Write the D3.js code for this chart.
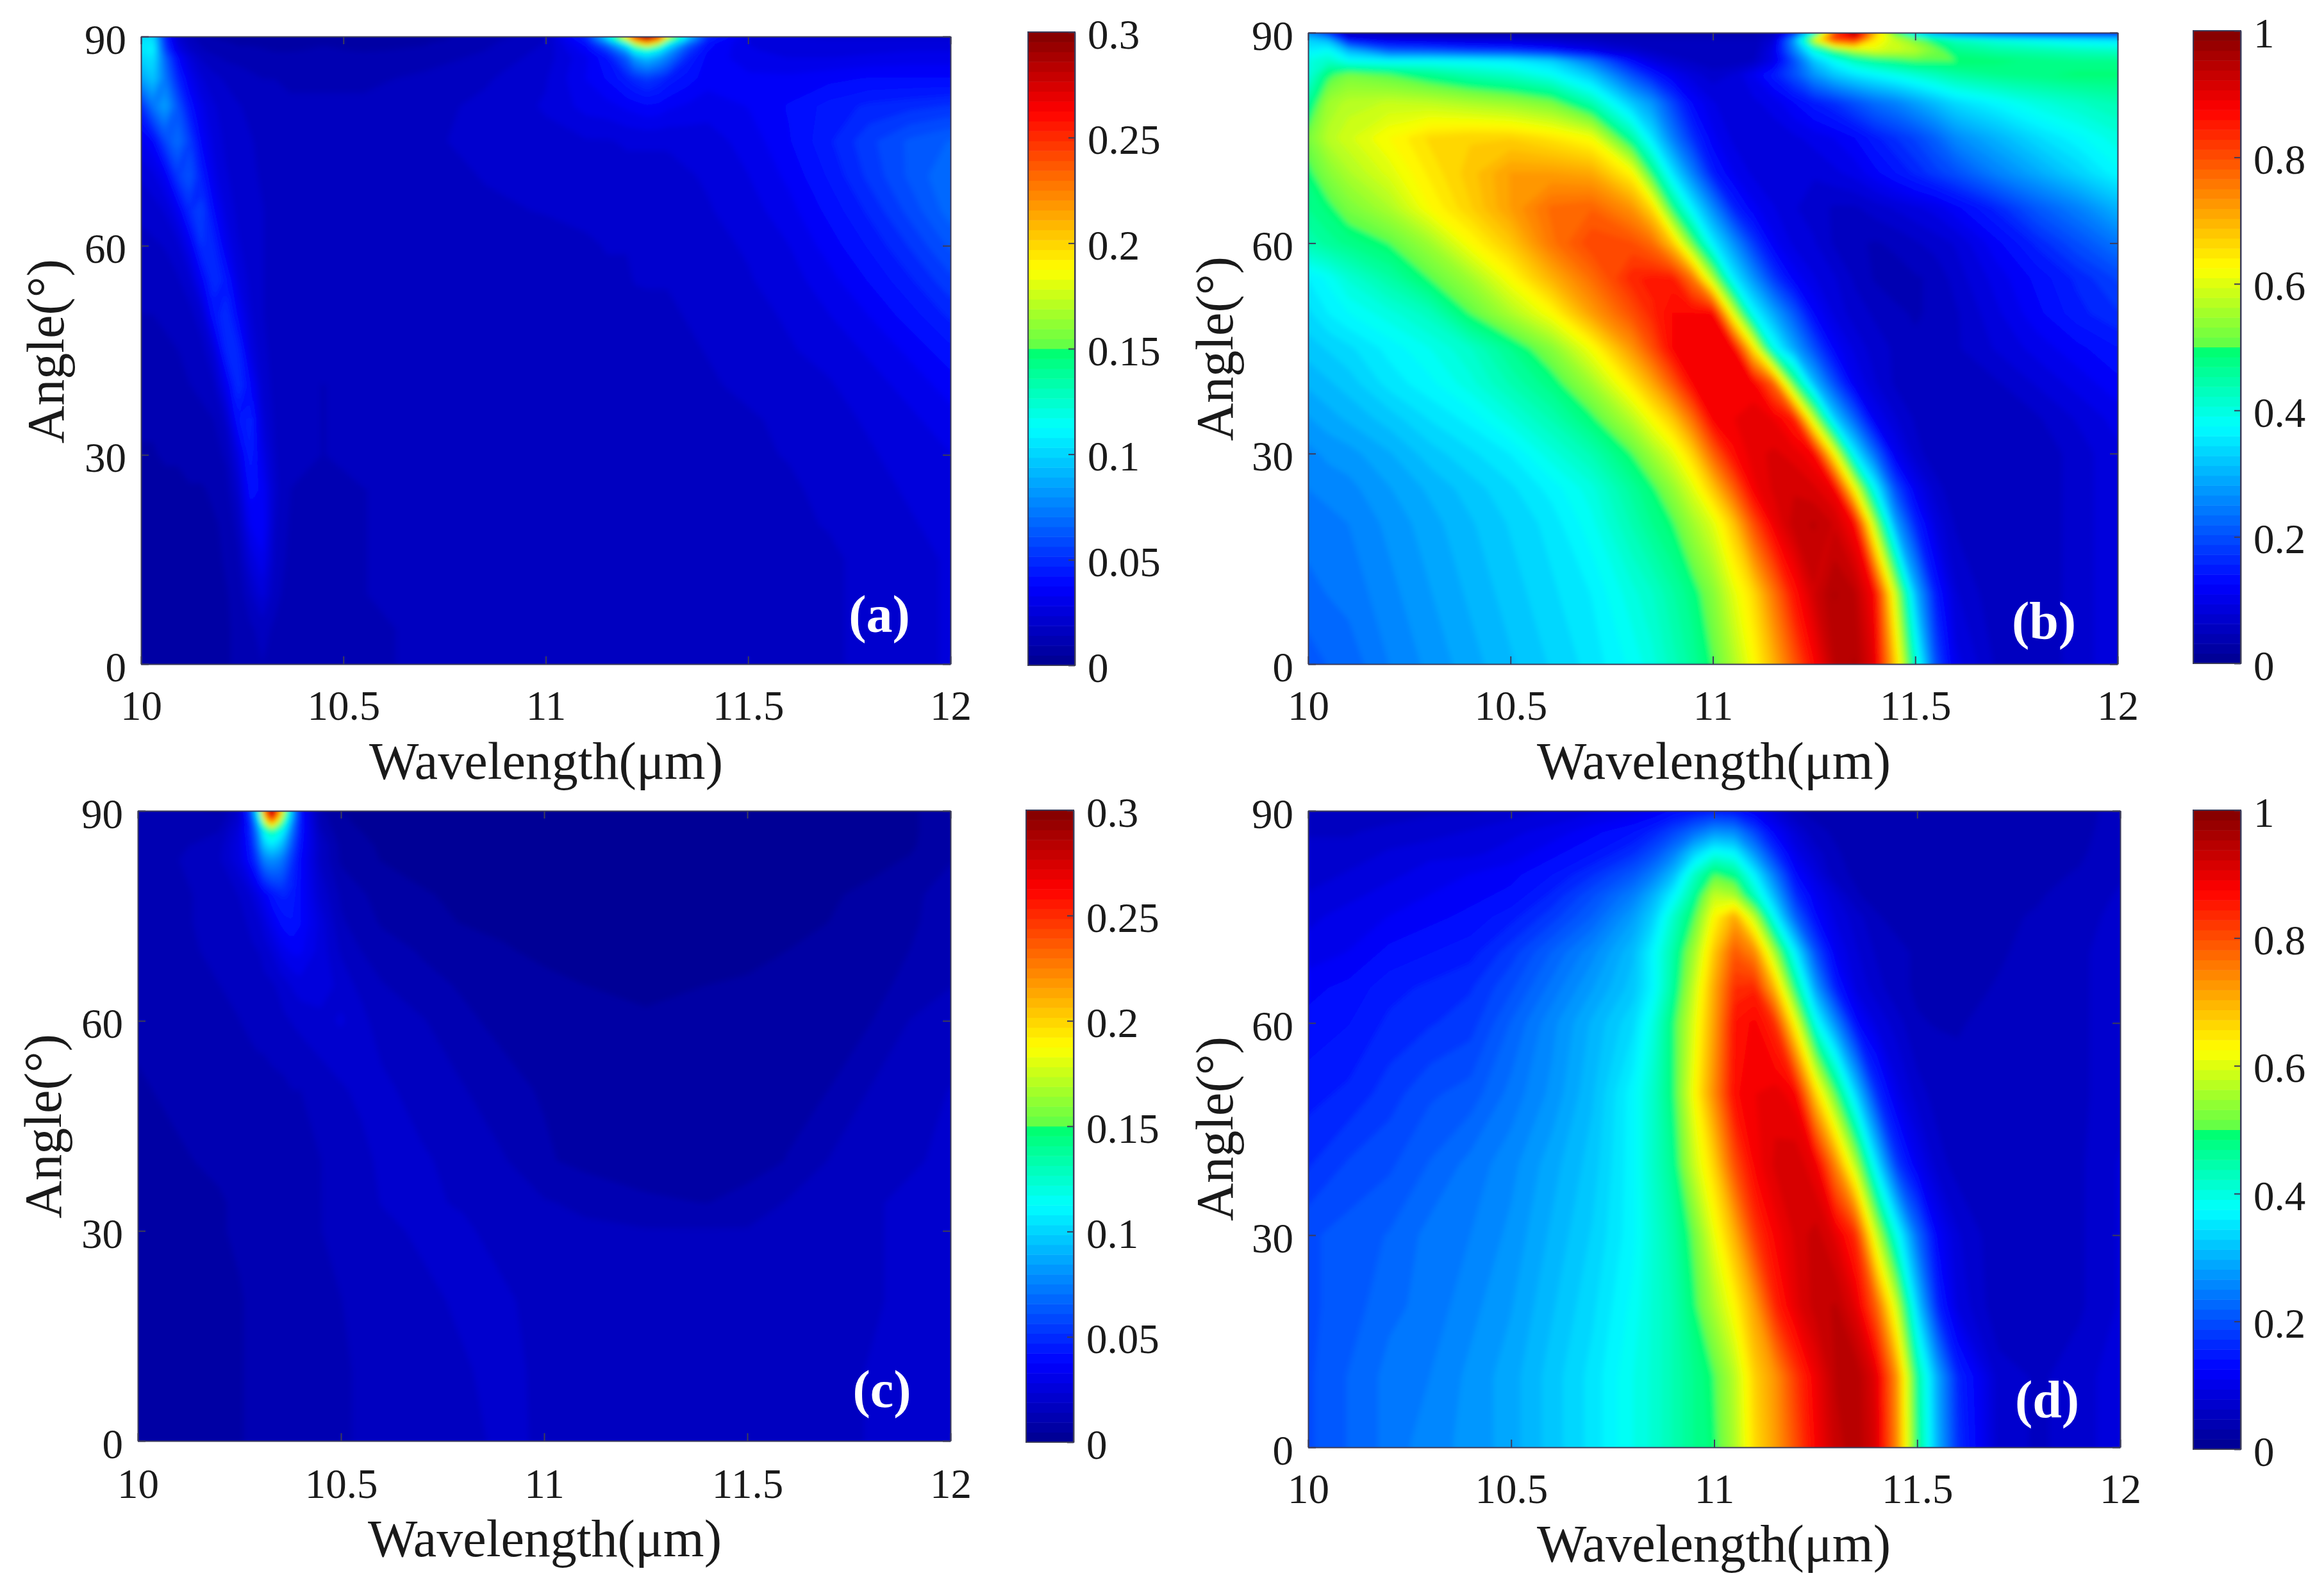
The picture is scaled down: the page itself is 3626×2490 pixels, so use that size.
<!DOCTYPE html>
<html>
<head>
<meta charset="utf-8">
<title>Angle vs wavelength maps</title>
<script src="https://cdnjs.cloudflare.com/ajax/libs/d3/7.8.5/d3.min.js"></script>
<style>
    body { margin: 0; background: #fff; }
    text { font-family: "Liberation Serif", "Times New Roman", serif; fill: #1a1a1a; }
</style>
</head>
<body>
<div id="chart"></div>
<script>
// --------- DATA ---------

const xTicks = [10, 10.5, 11, 11.5, 12];
const yTicks = [0, 30, 60, 90];
const barTicksSmall = [0, 0.05, 0.1, 0.15, 0.2, 0.25, 0.3];
const barTicksLarge = [0, 0.2, 0.4, 0.6, 0.8, 1];

// panel (a), values in thousandths
const wavelengthsA = [10,10.03,10.06,10.09,10.12,10.15,10.18,10.21,10.24,10.27,10.3,10.33,10.37,10.45,10.55,10.7,10.85,11,11.1,11.15,11.2,11.22,11.25,11.28,11.3,11.35,11.4,11.5,11.6,11.7,11.8,11.9,12];
const anglesA = [0,5,10,15,20,25,30,35,40,45,50,55,60,65,70,75,80,84,87,88,89,89.5,90];
const valuesA = [
    [9,9,9,9,9,9,9,9,10,12,14,13,12,12,13,15,16,18,16,16,16,16,16,16,16,16,16,17,17,18,20,22,24],
    [8,8,8,8,8,8,8,9,10,13,16,13,12,12,13,15,16,17,16,16,16,16,16,16,16,16,16,17,17,18,20,22,24],
    [7,7,7,7,7,7,8,9,11,18,25,16,11,12,14,15,16,16,16,16,16,16,16,16,16,16,16,17,17,18,20,22,24],
    [7,7,7,7,7,8,8,10,13,25,32,18,12,12,14,15,16,16,16,16,16,16,16,16,16,16,16,17,17,18,20,22,24],
    [7,7,7,8,8,8,9,10,16,33,37,19,13,12,14,15,16,16,16,16,16,16,16,16,16,16,16,17,18,19,21,23,25],
    [8,8,8,8,9,9,10,12,21,41,36,20,14,13,14,15,16,16,16,16,16,16,16,16,16,16,17,17,18,20,22,24,26],
    [9,9,10,10,11,11,12,15,28,47,30,19,15,14,15,15,16,16,16,16,16,16,16,16,16,16,17,18,19,21,23,25,28],
    [10,10,11,11,12,13,14,20,42,48,25,18,15,14,15,15,16,16,16,16,16,16,16,16,16,17,17,18,20,22,24,27,31],
    [11,12,12,13,14,15,18,32,52,38,22,17,15,14,15,15,16,16,16,16,16,16,16,16,17,17,18,20,21,23,26,30,35],
    [12,13,13,14,15,17,25,48,48,28,20,17,15,15,15,15,16,16,16,16,17,17,17,17,17,18,19,21,23,25,29,34,41],
    [14,14,15,16,17,22,42,52,36,24,19,17,16,15,15,16,16,16,16,17,17,17,18,18,18,19,20,22,24,28,33,40,48],
    [15,16,17,18,22,35,52,44,28,22,19,17,16,15,15,16,16,16,17,18,18,19,19,19,19,20,21,23,26,31,38,46,55],
    [17,18,19,22,32,52,48,32,24,21,19,17,16,16,16,16,16,17,18,19,19,20,20,20,20,21,22,24,28,35,43,52,62],
    [20,21,24,32,50,56,38,27,22,20,19,17,16,16,16,16,18,19,20,20,21,21,21,21,21,22,23,26,31,39,48,58,68],
    [24,27,34,54,62,45,30,24,21,20,18,17,16,16,16,17,19,20,21,21,22,22,22,22,22,23,24,28,34,43,53,62,70],
    [32,38,58,70,55,36,27,22,20,19,18,17,16,16,16,18,20,22,23,23,24,24,24,24,24,25,26,30,37,46,55,62,66],
    [50,72,85,62,42,30,24,21,19,18,17,16,15,15,15,17,20,24,30,31,34,35,37,36,34,32,30,33,38,44,48,50,52],
    [85,96,72,48,32,24,20,18,17,15,14,14,13,13,13,15,18,23,33,38,46,50,54,50,46,40,35,34,34,36,38,38,38],
    [100,105,65,38,25,18,15,13,12,12,11,11,11,11,11,12,15,21,32,42,65,85,95,85,75,48,36,30,28,28,29,30,30],
    [105,110,55,30,20,15,12,11,10,10,10,9,9,10,9,10,14,20,36,52,85,115,125,110,90,55,38,29,26,26,27,28,28],
    [105,108,50,26,17,13,11,10,9,9,8,8,8,9,8,9,13,19,40,70,120,170,210,170,120,70,40,28,25,24,24,25,25],
    [102,105,48,24,16,12,10,9,8,8,8,8,8,8,8,8,12,19,45,90,170,220,270,220,160,90,45,28,24,24,24,24,24],
    [100,102,45,22,15,11,9,8,8,8,8,8,8,8,8,8,11,18,50,100,200,270,300,270,190,100,50,28,24,22,22,22,22]
];

// panel (b), values in hundredths
const wavelengthsB = [10,10.05,10.1,10.2,10.3,10.4,10.5,10.6,10.7,10.8,10.85,10.9,10.95,11,11.05,11.1,11.15,11.2,11.25,11.3,11.35,11.4,11.45,11.5,11.55,11.6,11.7,11.8,11.9,12];
const anglesB = [0,10,20,25,30,35,40,45,50,55,60,65,70,75,80,84,86,87.5,89,90];
const valuesB = [
    [21,22,22.5,25,27,29,31,33,35,38,40,43,46,50,56,62.5,70,79,87.5,94,95.5,90,68,42,20,10,6,5,7,9],
    [23,23.5,24,26,28,30,32,34,36,40,42,45,48,53,60,66,76,86,92,95.5,94,87.5,59,31,15,8,5,5,7,9],
    [24,24.5,25,27,29,31,33,35,38.5,44,47,49.5,55,60,68,80,89,93,94,92,87.5,56,29,16,9,6,5,5,7,9],
    [25,25.5,26,28,30,32,34,36.5,40,46,49,54,60,68,78,88.5,91,92,91,88.5,62.5,37.5,20,11,7,5,5,5,7,9],
    [26,27,27.5,29.5,32,34,36,40,44,50,55,60,67,78,87,90,91,90,87.5,62.5,36,23,11,7,5,5,5,5,7,9],
    [28,29,30,32,34.5,36.5,40,44,49,57,62.5,68,77,88,89,90,89,85,57,33,22,11,8,6,5,5,5,6,8,10],
    [30,31,32,35,37,40,44,48,55,65,71,79,87.5,89,89,88,78,50,31,20,11,8,6,5,5,5,6,8,10,12],
    [32,33,34,36.5,39,42,47,53,62,73,80,87.5,88,88,88,65,39,29,20,12,9,7,6,5,5,6,8,10,12,14],
    [34,36,37.5,40,43,50,56,62.5,72,80,84,87.5,87.5,87.5,60,37.5,29,21,12.5,9,7,6,5,4.5,5,6,9,12,15,17],
    [36,38,41,45,50,55,62.5,70,77,84,85,85,76,56,36,27,18,12,9.5,8,6,4.5,4,4.5,5,7,10,13,16,19],
    [44,46,47.5,50,55,62.5,68,76,81,80,77,68,51,36,27,18,11.5,9,8,6,5,4.5,5,6,7,8,12,16,20,24],
    [47,49,52,56,62.5,67,72,77,78,73,66,48,36,26,16,11.5,9.5,8,7,6,6,7,8,9,10,12,16,21,25,30],
    [49,53,56,60,64.5,68,72,72,71,63,48,35,25,15,11,9,8,8,8,9,10,12,14,16,18,20,25,29,33,37],
    [52,57,59,62.5,66,67,67,65,62,45,35,25,17,11.5,9,8,8.5,9,10,11,12.5,15,17,19,22,26,30,34,37,40],
    [46,55,57,58,57.5,56,54.5,52,44,32,27,19,12.5,9.5,8.5,9,10,12.5,15,17,20,23,25,28,31,34,37,40,42,44],
    [40,49,52,50,47,44,42,38.5,32,20,15,11,8.5,7,8,11,15,20,27,32,35,37,39,41,43,45,47,48,49,49],
    [40,42,38,37,37.5,37,36,33,24,13,9,7,6,5,5,6,10,20,32,38,43,46,48,50,50,50,49,48,47,47],
    [36,38,30,21,20,18,17,14,10,7,6,5,5,5,5,5,10,25,40,50,56.5,60,58.5,57,52,47,45,44,43,42],
    [33,30,13,10,9,8,8,7,6,5,5,5,5,5,5,5,8,28,60,82,86,65,58,52,47,43,40,38,36,35],
    [25,15,4,3,3,3,3,3,3,3,3,3,3,3,3,3,5,15,40,80,97,70,50,35,25,20,15,12,12,12]
];

// panel (c), values in thousandths
const wavelengthsC = [10,10.1,10.2,10.25,10.28,10.3,10.31,10.33,10.35,10.36,10.38,10.4,10.45,10.5,10.55,10.6,10.7,10.8,10.9,11,11.1,11.25,11.4,11.5,11.6,11.7,11.8,11.9,12];
const anglesC = [0,10,20,30,34,40,50,60,65,70,74,78,83,85,87,88,89,90];
const valuesC = [
    [7,7,8,9,10,10,11,11,11,11,11,11,12,13,15,15,16,17,20,18,16,16,16,16,16,17,19,20,21],
    [7,7,8,9,10,10,11,11,11,11,11,11,12,13,15,15,16,18,21,17,16,16,16,16,16,17,19,20,21],
    [7,8,8,9,10,10,11,11,11,11,11,12,13,14,15,16,17,20,20,16,15,15,15,15,15,16,18,20,21],
    [7,8,9,10,11,11,11,12,12,12,12,13,14,15,16,17,20,20,16,15,15,14.5,14.5,14.5,15,15.5,18,20,21],
    [7,8,9,10,11,11,11,12,12,12,12,13,14,15.5,16.5,19,20,18,15.5,14.5,13,10,9.3,10.5,14.5,15.5,18,20,21],
    [8,9,10,11,11,12,12,12,12,12,13,13,14,16,17,20,20,15.5,14.5,10,8,7.5,7.5,8,9.5,14.2,15,18,20],
    [9,10,11,12,12,13,13,13,13,13,14,14,16,18,20,21,15,14.5,10.5,9,8,7,7,7.5,8.5,9.4,14.2,16,19],
    [10,11,13,14,15,15,15,16,17,18,19,20,22,24,21,15,14.5,10,8.5,7,5.5,5,5,5.5,6,7,9,14.2,15],
    [11,12,14,15,16,16,17,18,20,21,24,26,26,22,17,14.5,10.5,9,7,5.5,4.7,4.2,4.7,5,5.5,6.5,8,10.5,14],
    [12,13,15,16,18,19,21,24,29,31,34,34,26,18,14,11,9,7,5,4,3.5,3.2,3.5,4,4.7,5.5,7,9.4,13],
    [12,13,16,17,20,23,26,32,38,40,42,38,26,15,11,9,6,4.5,4,3.5,3.2,3,3.2,3.5,4,4.7,6,8.5,12],
    [12,13,16,19,24,30,34,42,47,48,45,38,22,13,10,7.5,5,4,3.5,3,3,3,3,3.2,3.5,4.2,5.5,8,12],
    [12,14,18,27,42,60,75,80,75,68,52,38,18,8.5,6,4.5,3.5,3.2,3,3,3,3,3,3,3,3,3.5,5,9],
    [12,13,17,28,45,75,95,105,95,85,60,40,18,8,5.5,4.2,3.2,3,3,3,3,3,3,3,3,3,3.2,4,8],
    [12,12,14,26,50,85,115,135,115,105,70,42,15,6,4.7,3.8,3,3,3,3,3,3,3,3,3,3,3,4,7],
    [12,11,12,24,50,100,150,200,150,125,75,42,13,5,4.5,3.5,3,3,3,3,3,3,3,3,3,3,3,4,7],
    [12,11,10,22,55,120,190,270,190,150,85,42,12,5,4.2,3.5,3,3,3,3,3,3,3,3,3,3,3,4,7],
    [12,10,9,20,60,140,220,300,220,170,90,40,10,4.5,4,3,3,3,3,3,3,3,3,3,3,3,3,4,7]
];

// panel (d), values in hundredths
const wavelengthsD = [10,10.1,10.2,10.3,10.4,10.5,10.6,10.7,10.8,10.85,10.9,10.95,11,11.05,11.1,11.15,11.2,11.25,11.3,11.35,11.4,11.45,11.5,11.55,11.6,11.7,11.8,11.9,12];
const anglesD = [0,10,20,30,40,50,60,65,70,75,78,81,84,87,90];
const valuesD = [
    [20,22,24,26,27,29,32,35,39,41,44,47,49,56,66,72,80,88,93,95,91,74,48,30,17,7,6,7,9],
    [20,22,24,25,27,29,32,35,39,41,44,47,50,57,67,73,82,89,94,95,90,73,46,29,16,7,6,7,9],
    [20,21,23,24,26,28,31,34,38,41,44,49,56,63,72,84,90,93,94,90,78,58,33,16,9,5,5,6,8],
    [20,21,22,24,25,27,30,33,37,41,45,51,61,70,82,88,91,93,90,83,58,39,23,12,8,5,5,6,8],
    [17,19,20,22,24,26,29,32,37,42,47,58,67,80,88,91,92,89,74,56,35,18,11,7,5.5,5,5,6,8],
    [15,16,18,20,21,24,27,31,37,42,49,62,74,87,89,90,88,67,50,33,17,10,7,5.5,5,4.8,5,6,7],
    [13,14,16,17,18,22,26,30,34,40,49,60,72,86,88,83,62,39,26,13,9,7,4.8,4.6,4.6,5,5.5,6,7],
    [12,13,15,16,17,20,24,28,32,37,46,58,71,83,84,69,47,28,15,9,7,5,4.5,4.2,4.2,4.8,5.5,6,7],
    [10,11,13,14,15,18,22,26,31,37,45,55,68,79,74,55,36,20,11,8,6,5,4.5,4.2,4.2,4.5,5.2,6,7],
    [9,10,11,12,13,15,18,22,28,33,42,50,63,71,57,37,22,13,9,7,4.8,4.3,4.2,4.2,4.2,4.5,4.8,5.4,7],
    [8,9,10,11,12,13,16,20,25,30,37,46,58,56,43,30,17,11,8,4.8,4.3,4.2,4.2,4.2,4.2,4.3,4.6,5.2,6.5],
    [7,8,9,10,11,12,14,17,21,25,31,42,50,47,36,24,13,9,5,4.5,4.3,4.2,4.2,4.2,4.2,4.2,4.4,4.8,6],
    [7,7,8,9,9,10,12,14,17,20,25,33,39,37,27,17,10,7,4.8,4.3,4.2,4.2,4.2,4.2,4.2,4.2,4.3,4.5,5.5],
    [6,6,7,7,8,9,10,12,14,16,19,23,27,26,19,12,8,5,4.5,4.2,4.2,4.2,4.2,4.2,4.2,4.2,4.2,4.4,5.2],
    [5,5,5,6,6,7,8,9,10,11,13,14,15,14,11,8,4.8,4.3,4.2,4.2,4.2,4.2,4.2,4.2,4.2,4.2,4.2,4.4,5]
];

// --------- COLORS ---------

const levelCount = 64;
const jet = d3.scaleLinear()
    .domain([0, 0.125, 0.375, 0.505, 0.506, 0.625, 0.875, 1])
    .range(["#00008f", "#0000ff", "#00ffff", "#00ff64", "#64ff46", "#ffff00", "#ff0000", "#800000"]);

// --------- LAYOUT ---------

const axisColor = "#3c3c5a";
const tickFont = 65, labelFont = 82, tagFont = 82;

const svg = d3.select("#chart")
    .append("svg")
    .attr("width", 3626)
    .attr("height", 2490);

// slight blur so the contour edges read like the resampled original
svg.append("defs").append("filter")
    .attr("id", "soft")
    .append("feGaussianBlur")
    .attr("stdDeviation", 4);

// d3.contours places sample i at i + 0.5, so map back to data space piecewise.
// The outer half cell runs past the axis limits and gets clipped (keeps the blur from fading at the edge)
function indexScale(samples, pad) {
    let n = samples.length;
    let domain = [0].concat(samples.map((d, i) => i + 0.5), [n]);
    let range = [samples[0] - pad].concat(samples, [samples[n - 1] + pad]);
    return d3.scaleLinear().domain(domain).range(range);
}

function panel(p) {
    let graph = svg.append("g");

    let xScale = d3.scaleLinear().domain([10, 12]).range([p.left, p.right]);
    let yScale = d3.scaleLinear().domain([0, 90]).range([p.bottom, p.top]);

    let rows = p.values.length, cols = p.wavelengths.length;
    p.values.forEach(r => { if (r.length !== cols) throw new Error(p.tag + " row length " + r.length); });
    if (rows !== p.angles.length) throw new Error(p.tag + " rows " + rows);

    let ix = indexScale(p.wavelengths, 0.1), iy = indexScale(p.angles, 5);
    let project = d3.geoTransform({
        point: function(x, y) { this.stream.point(xScale(ix(x)), yScale(iy(y))); }
    });
    let path = d3.geoPath(project);

    // filled contours, lowest level painted as the background
    let levels = d3.range(1, levelCount).map(i => i / levelCount * p.unitMax);
    let contours = d3.contours()
        .size([cols, rows])
        .thresholds(levels)(p.values.flat());

    let clipId = "clip-" + p.tag.replace(/\W/g, "");
    svg.select("defs").append("clipPath")
        .attr("id", clipId)
        .append("rect")
        .attr("x", p.left).attr("y", p.top)
        .attr("width", p.right - p.left).attr("height", p.bottom - p.top);

    let field = graph.append("g")
        .attr("clip-path", "url(#" + clipId + ")")
        .append("g")
        .attr("filter", "url(#soft)");

    field.append("rect")
        .attr("x", p.left - 40).attr("y", p.top - 40)
        .attr("width", p.right - p.left + 80).attr("height", p.bottom - p.top + 80)
        .attr("fill", jet(0.5 / levelCount));

    field.selectAll("path")
        .data(contours)
        .join("path")
        .attr("d", path)
        .attr("fill", (d, i) => jet((i + 1.5) / levelCount));

    // axes, MATLAB style with inward ticks on all four sides
    graph.append("g")
        .attr("transform", "translate(0," + p.bottom + ")")
        .call(d3.axisBottom(xScale).tickValues(xTicks).tickSizeInner(-12).tickSizeOuter(0).tickPadding(0).tickFormat(d3.format("")))
        .call(axisStyle)
        .selectAll("text")
        .attr("y", p.tickOffset)
        .attr("dy", 0);
    graph.append("g")
        .attr("transform", "translate(0," + p.top + ")")
        .call(d3.axisTop(xScale).tickValues(xTicks).tickSizeInner(-12).tickSizeOuter(0).tickFormat(""))
        .call(axisStyle);
    graph.append("g")
        .attr("transform", "translate(" + p.left + ",0)")
        .call(d3.axisLeft(yScale).tickValues(yTicks).tickSizeInner(-12).tickSizeOuter(0).tickFormat(d3.format("")))
        .call(axisStyle)
        .selectAll("text")
        .attr("x", -23)
        .attr("dy", 26);
    graph.append("g")
        .attr("transform", "translate(" + p.right + ",0)")
        .call(d3.axisRight(yScale).tickValues(yTicks).tickSizeInner(-12).tickSizeOuter(0).tickFormat(""))
        .call(axisStyle);

    // axis titles and panel tag
    graph.append("text")
        .attr("x", p.xLabelX)
        .attr("y", p.bottom + p.xLabelOffset)
        .attr("text-anchor", "middle")
        .attr("font-size", labelFont)
        .text("Wavelength(μm)");

    graph.append("text")
        .attr("transform", "translate(" + p.yLabelX + "," + p.yLabelY + ") rotate(-90)")
        .attr("text-anchor", "middle")
        .attr("font-size", labelFont)
        .text("Angle(°)");

    graph.append("text")
        .attr("x", p.tagX)
        .attr("y", p.tagY)
        .attr("text-anchor", "middle")
        .attr("font-size", tagFont)
        .attr("font-weight", "bold")
        .style("fill", "#fff")
        .text(p.tag);

    // colorbar
    let barScale = d3.scaleLinear().domain([0, p.barMax]).range([p.barBottom, p.barTop]);
    let steps = d3.range(levelCount);
    graph.append("g").selectAll("rect")
        .data(steps)
        .join("rect")
        .attr("x", p.barLeft)
        .attr("width", p.barRight - p.barLeft)
        .attr("y", d => barScale((d + 1) / levelCount * p.barMax))
        .attr("height", d => barScale(d / levelCount * p.barMax) - barScale((d + 1) / levelCount * p.barMax) + 0.5)
        .attr("fill", d => jet((d + 0.5) / levelCount));

    graph.append("rect")
        .attr("x", p.barLeft).attr("y", p.barTop)
        .attr("width", p.barRight - p.barLeft).attr("height", p.barBottom - p.barTop)
        .attr("fill", "none")
        .attr("stroke", axisColor)
        .attr("stroke-width", 2);

    graph.append("g")
        .attr("transform", "translate(" + p.barRight + ",0)")
        .call(d3.axisRight(barScale).tickValues(p.barTicks).tickSizeInner(-10).tickSizeOuter(0).tickFormat(d3.format("")))
        .call(axisStyle)
        .selectAll("text")
        .attr("x", 20)
        .attr("dy", 25);
}

function axisStyle(g) {
    g.selectAll(".domain").attr("stroke", axisColor).attr("stroke-width", 2);
    g.selectAll(".tick line").attr("stroke", axisColor).attr("stroke-width", 2);
    g.selectAll("text").attr("font-size", tickFont).attr("font-family", null).attr("fill", null);
    g.attr("font-family", null).attr("font-size", null);
}

// --------- PANELS ---------

panel({
    wavelengths: wavelengthsA, angles: anglesA, values: valuesA, unitMax: 300,
    barMax: 0.3, barTicks: barTicksSmall, tag: "(a)",
    left: 220, right: 1483, top: 57, bottom: 1036, tickOffset: 87,
    xLabelX: 852, xLabelOffset: 179, yLabelX: 99, yLabelY: 548,
    tagX: 1372, tagY: 986,
    barLeft: 1604, barRight: 1677, barTop: 50, barBottom: 1038
});
panel({
    wavelengths: wavelengthsB, angles: anglesB, values: valuesB, unitMax: 100,
    barMax: 1, barTicks: barTicksLarge, tag: "(b)",
    left: 2041, right: 3304, top: 51, bottom: 1036, tickOffset: 87,
    xLabelX: 2674, xLabelOffset: 179, yLabelX: 1923, yLabelY: 544,
    tagX: 3189, tagY: 996,
    barLeft: 3422, barRight: 3496, barTop: 48, barBottom: 1035
});
panel({
    wavelengths: wavelengthsC, angles: anglesC, values: valuesC, unitMax: 300,
    barMax: 0.3, barTicks: barTicksSmall, tag: "(c)",
    left: 215, right: 1483, top: 1265, bottom: 2248, tickOffset: 89,
    xLabelX: 850, xLabelOffset: 180, yLabelX: 95, yLabelY: 1757,
    tagX: 1376, tagY: 2195,
    barLeft: 1601, barRight: 1675, barTop: 1264, barBottom: 2250
});
panel({
    wavelengths: wavelengthsD, angles: anglesD, values: valuesD, unitMax: 100,
    barMax: 1, barTicks: barTicksLarge, tag: "(d)",
    left: 2041, right: 3308, top: 1265, bottom: 2258, tickOffset: 87,
    xLabelX: 2674, xLabelOffset: 178, yLabelX: 1923, yLabelY: 1761,
    tagX: 3194, tagY: 2211,
    barLeft: 3422, barRight: 3496, barTop: 1264, barBottom: 2261
});
</script>
</body>
</html>
